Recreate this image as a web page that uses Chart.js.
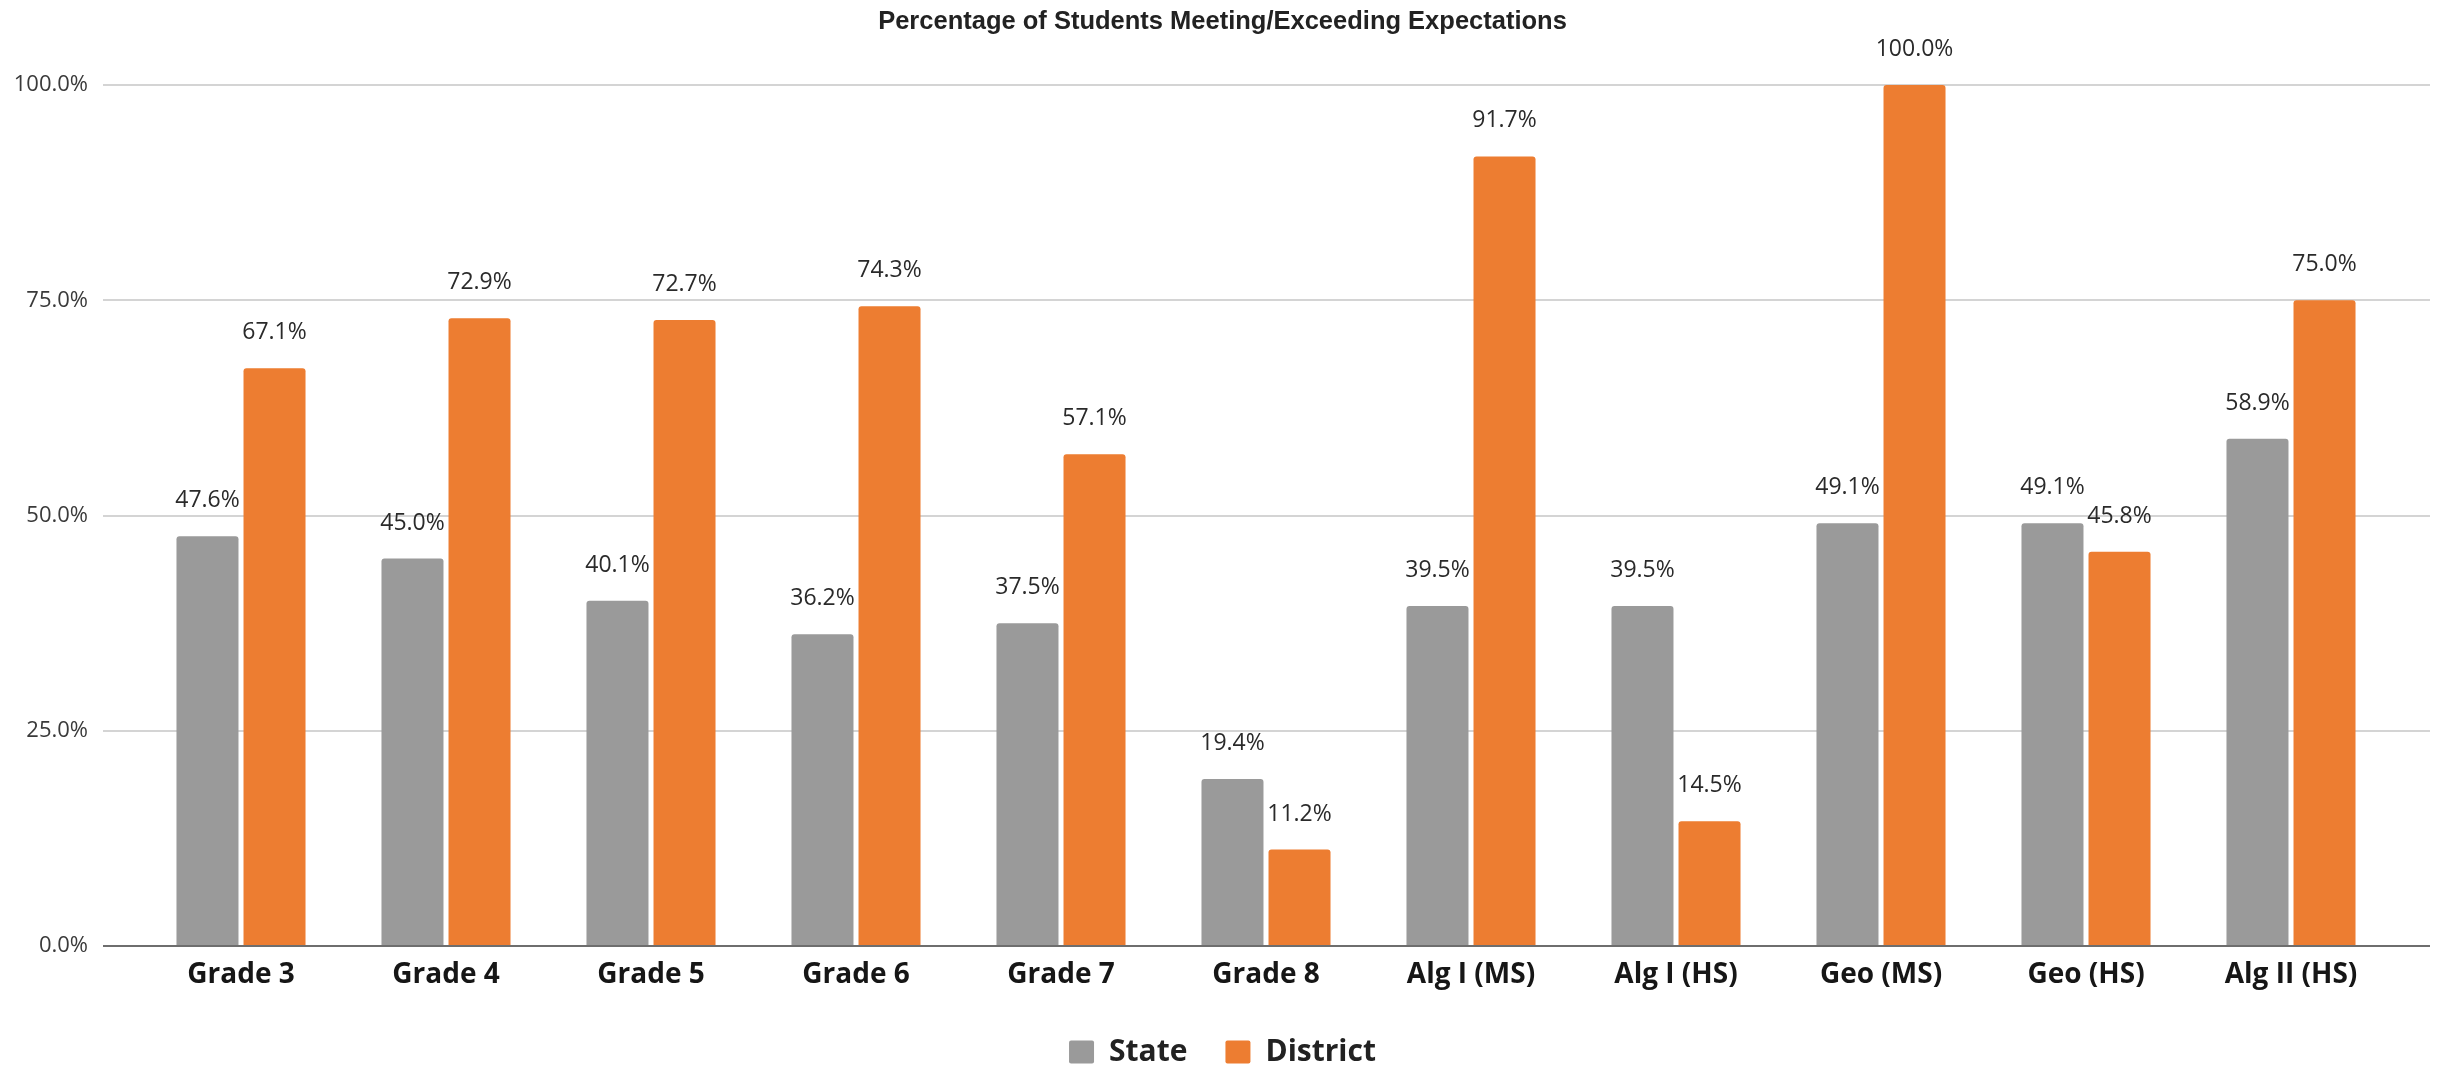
<!DOCTYPE html>
<html>
<head>
<meta charset="utf-8">
<script src="https://cdn.jsdelivr.net/npm/chart.js@4.4.1/dist/chart.umd.min.js"></script>
<style>
  html, body { margin: 0; padding: 0; background: #ffffff; }
  #wrap { width: 2445px; height: 1065px; }
</style>
</head>
<body>
<div id="wrap"><canvas id="c" width="2445" height="1065"></canvas></div>
<script>
const categories = ['Grade 3', 'Grade 4', 'Grade 5', 'Grade 6', 'Grade 7', 'Grade 8', 'Alg I (MS)', 'Alg I (HS)', 'Geo (MS)', 'Geo (HS)', 'Alg II (HS)'];
const stateValues = [47.6, 45.0, 40.1, 36.2, 37.5, 19.4, 39.5, 39.5, 49.1, 49.1, 58.9];
const districtValues = [67.1, 72.9, 72.7, 74.3, 57.1, 11.2, 91.7, 14.5, 100.0, 45.8, 75.0];
const yTickValues = [0, 25, 50, 75, 100];
const titleText = 'Percentage of Students Meeting/Exceeding Expectations';
const seriesNames = ['State', 'District'];

const gridPlugin = {
  id: 'extendedGrid',
  afterInit(chart) {
    const lg = chart.legend;
    if (lg && !lg._patched) {
      const origFit = lg.fit.bind(lg);
      lg.fit = function () {
        origFit();
        this.height = 66;
      };
      lg._patched = true;
    }
  },
  beforeDatasetsDraw(chart) {
    const { ctx, chartArea, scales } = chart;
    const y = scales.y;
    ctx.save();
    ctx.strokeStyle = '#d4d4d4';
    ctx.lineWidth = 2;
    yTickValues.forEach(v => {
      if (v === 0) return;
      const py = Math.round(y.getPixelForValue(v));
      ctx.beginPath();
      ctx.moveTo(chartArea.left - 35.5, py);
      ctx.lineTo(chartArea.right + 36.5, py);
      ctx.stroke();
    });
    ctx.restore();
  },
  afterDatasetsDraw(chart) {
    const { ctx, chartArea, scales } = chart;
    const y = scales.y;
    ctx.save();
    ctx.strokeStyle = '#6e6e6e';
    ctx.lineWidth = 2;
    const py0 = Math.round(y.getPixelForValue(0));
    ctx.beginPath();
    ctx.moveTo(chartArea.left - 35.5, py0);
    ctx.lineTo(chartArea.right + 36.5, py0);
    ctx.stroke();
    ctx.font = '23px "Open Sans"';
    ctx.fillStyle = '#2a2a2a';
    ctx.textAlign = 'center';
    ctx.textBaseline = 'alphabetic';
    chart.data.datasets.forEach((ds, i) => {
      const meta = chart.getDatasetMeta(i);
      meta.data.forEach((bar, j) => {
        ctx.fillText(ds.data[j].toFixed(1) + '%', bar.x, bar.y - 29);
      });
    });
    ctx.restore();
  }
};

function build() {
  new Chart(document.getElementById('c'), {
    type: 'bar',
    data: {
      labels: categories,
      datasets: [
        {
          label: seriesNames[0],
          data: stateValues,
          backgroundColor: '#9a9a9a',
          borderRadius: { topLeft: 3, topRight: 3, bottomLeft: 0, bottomRight: 0 },
          borderSkipped: 'start',
          categoryPercentage: 0.654,
          barPercentage: 0.925
        },
        {
          label: seriesNames[1],
          data: districtValues,
          backgroundColor: '#ED7D31',
          borderRadius: { topLeft: 3, topRight: 3, bottomLeft: 0, bottomRight: 0 },
          borderSkipped: 'start',
          categoryPercentage: 0.654,
          barPercentage: 0.925
        }
      ]
    },
    options: {
      responsive: false,
      animation: false,
      layout: { padding: { left: 0, right: 0, top: 0, bottom: 0 } },
      plugins: {
        title: {
          display: true,
          text: titleText,
          color: '#222222',
          font: { family: '"Liberation Sans", Arial, sans-serif', size: 25.5, weight: 'bold', lineHeight: 1.2 },
          padding: { top: 7, bottom: 47.4 }
        },
        legend: {
          display: true,
          position: 'bottom',
          labels: {
            color: '#222222',
            font: { family: '"Open Sans", sans-serif', size: 30, weight: 'bold' },
            boxWidth: 25,
            boxHeight: 23,
            padding: 38,
            useBorderRadius: true,
            borderRadius: 2
          }
        },
        tooltip: { enabled: false }
      },
      scales: {
        x: {
          grid: { display: false, drawTicks: true, tickLength: 5 },
          border: { display: false },
          ticks: {
            color: '#161616',
            font: { family: '"Open Sans", sans-serif', size: 28, weight: 'bold', lineHeight: 1.2 },
            padding: 7.2,
            maxRotation: 0,
            autoSkip: false
          }
        },
        y: {
          min: 0,
          max: 100,
          afterFit(scale) { scale.width = 138.5; },
          afterBuildTicks(scale) { scale.ticks = yTickValues.map(v => ({ value: v })); },
          grid: { display: false, drawTicks: false },
          border: { display: false },
          ticks: {
            color: '#3a3a3a',
            font: { family: '"Open Sans", sans-serif', size: 22 },
            padding: 50.5,
            callback: (v) => Number(v).toFixed(1) + '%'
          }
        },
        ySpacer: {
          type: 'linear',
          position: 'right',
          display: true,
          afterFit(scale) { scale.width = 51.5; },
          grid: { display: false, drawTicks: false },
          border: { display: false },
          ticks: { display: false }
        }
      }
    },
    plugins: [gridPlugin]
  });
}

const loads = [
  'bold 28px "Open Sans"', '22px "Open Sans"', 'bold 30px "Open Sans"', 'bold 24px "Liberation Sans"'
].map(f => document.fonts.load(f).catch(() => null));
Promise.all(loads).then(build, build);
</script>
</body>
</html>
